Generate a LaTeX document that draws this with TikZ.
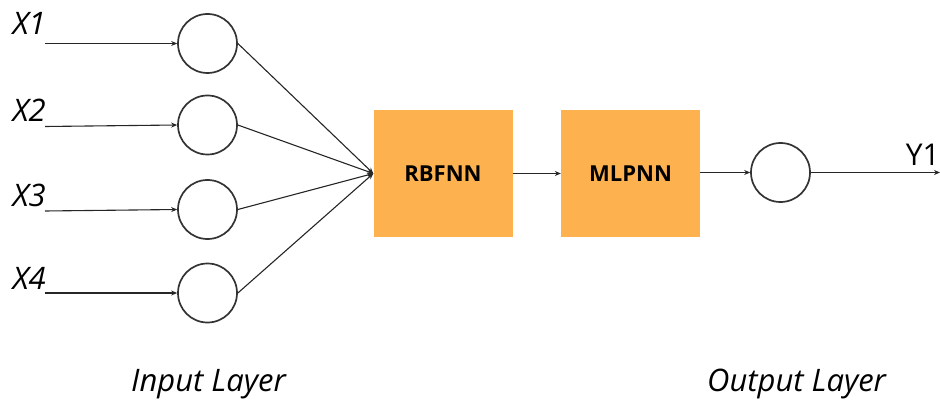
\documentclass[tikz,border=0pt]{standalone}
\usepackage{fontspec}
\setmainfont{Open Sans}
\usetikzlibrary{arrows.meta}
\definecolor{boxfill}{HTML}{FDB24F}
\definecolor{ringline}{HTML}{333333}
\tikzset{
  neuron/.style={circle, draw=ringline, line width=1.7pt, minimum size=59pt, inner sep=0pt},
  block/.style={fill=boxfill, minimum width=139pt, minimum height=127pt, inner sep=0pt,
                font=\fontsize{22}{22}\selectfont\bfseries},
  link/.style={draw=black!85, line width=1.1pt, -{Stealth[length=6pt,width=5pt]}},
  inlabel/.style={inner sep=0pt, font=\fontsize{31}{31}\selectfont\itshape},
  outlabel/.style={inner sep=0pt, font=\fontsize{30}{30}\selectfont},
  caption/.style={inner sep=0pt, font=\fontsize{31}{31}\selectfont\itshape}
}
\begin{document}
\begin{tikzpicture}[x=1pt,y=-1pt]
\useasboundingbox (0,0) rectangle (940,401);

% input neurons
\node[neuron] (n1) at (207.5,43.5) {};
\node[neuron] (n2) at (207.5,125) {};
\node[neuron] (n3) at (207.5,209.5) {};
\node[neuron] (n4) at (207.5,293) {};

% input labels and their feed lines
\node[inlabel, anchor=base east] (x1) at (46,35) {X1};
\node[inlabel, anchor=base east] (x2) at (46,122) {X2};
\node[inlabel, anchor=base east] (x3) at (46,207) {X3};
\node[inlabel, anchor=base east] (x4) at (46,289) {X4};
\coordinate (s1) at (45,43.5);
\coordinate (s2) at (45,126.5);
\coordinate (s3) at (45,211);
\coordinate (s4) at (45,293);
\draw[link] (s1) -- (n1.west);
\draw[link] (s2) -- (n2.west);
\draw[link] (s3) -- (n3.west);
\draw[link] (s4) -- (n4.west);

% network blocks
\node[block] (rbf) at (443,173.5) {RBFNN};
\node[block] (mlp) at (630.5,173.5) {MLPNN};

% output neuron
\node[neuron] (out) at (780.5,172.5) {};

% connections
\foreach \i in {1,...,4} \draw[link] (n\i.east) -- (rbf.west);
\draw[link] (rbf.east) -- (mlp.west);
\draw[link] (mlp.east |- out.west) -- (out.west);
\coordinate (yend) at (940,172.5);
\draw[link] (out.east) -- (yend);
\node[outlabel, anchor=base east] (y1) at (940,165) {Y1};

% layer captions
\node[caption, anchor=base west] (inlayer) at (131,391.5) {Input Layer};
\node[caption, anchor=base west] (outlayer) at (707,391.5) {Output Layer};
\end{tikzpicture}
\end{document}
